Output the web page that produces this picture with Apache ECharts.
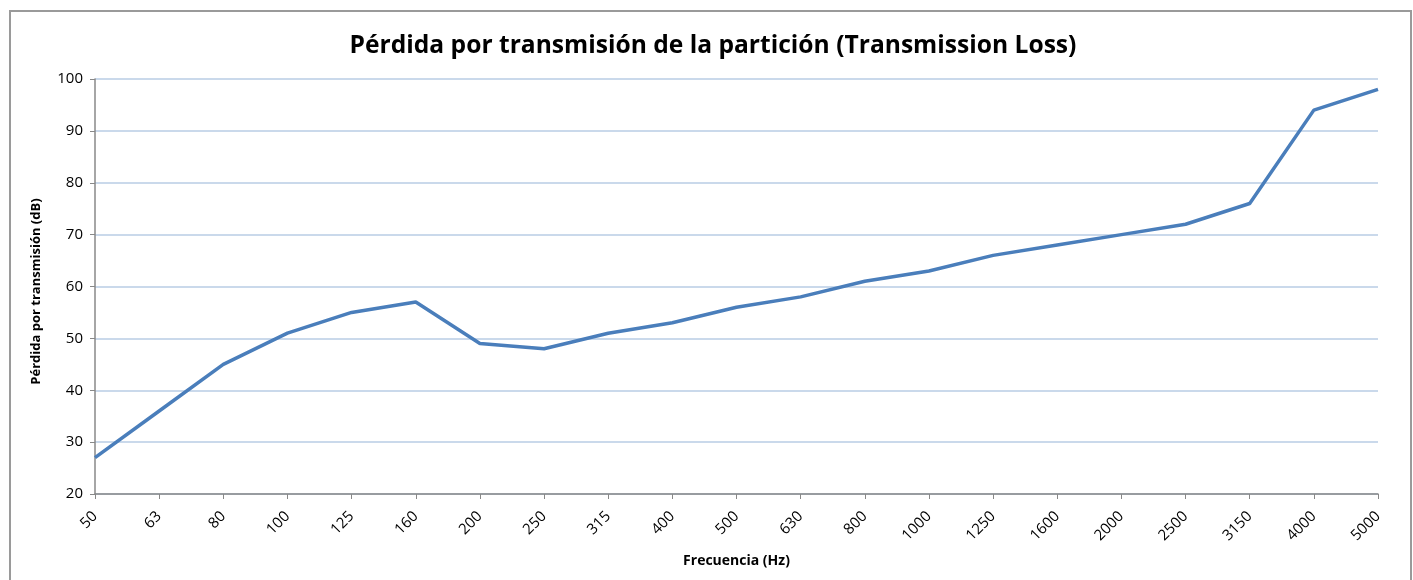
<!DOCTYPE html>
<html>
<head>
<meta charset="utf-8">
<script src="https://cdn.jsdelivr.net/npm/echarts@6/dist/echarts.min.js"></script>
<style>
    html, body {
        margin: 0;
        padding: 0;
        background: #fff;
    }
    .frame {
        position: absolute;
        left: 9px;
        top: 10px;
        width: 1399px;
        height: 600px;
        border: 2px solid #9a9a9a;
    }
    #chart {
        position: absolute;
        left: 0;
        top: 0;
        width: 1413px;
        height: 580px;
    }
</style>
</head>
<body>
<div class="frame"></div>
<div id="chart"></div>
<script>
var frequencies = ['50', '63', '80', '100', '125', '160', '200', '250', '315', '400', '500',
    '630', '800', '1000', '1250', '1600', '2000', '2500', '3150', '4000', '5000'];
var transmissionLoss = [27, 36, 45, 51, 55, 57, 49, 48, 51, 53, 56,
    58, 61, 63, 66, 68, 70, 72, 76, 94, 98];

var myChart = echarts.init(document.getElementById('chart'));
var option = {
    animation: false,
    title: {
        text: 'Pérdida por transmisión de la partición (Transmission Loss)',
        left: 708,
        textAlign: 'center',
        top: 28,
        textStyle: {
            fontFamily: 'Open Sans',
            fontWeight: 'bold',
            fontSize: 24.6,
            color: '#000'
        }
    },
    grid: {
        left: 95,
        right: 35,
        top: 79,
        bottom: 86
    },
    xAxis: {
        type: 'category',
        boundaryGap: false,
        data: frequencies,
        name: 'Frecuencia (Hz)',
        nameLocation: 'middle',
        nameGap: 60,
        nameTextStyle: {
            fontFamily: 'Open Sans',
            fontWeight: 'bold',
            fontSize: 14,
            color: '#000'
        },
        axisLine: {
            lineStyle: { color: '#888', width: 1.5 }
        },
        axisTick: {
            alignWithLabel: true,
            length: 5,
            lineStyle: { color: '#888' }
        },
        axisLabel: {
            rotate: 45,
            margin: 20,
            fontFamily: 'Open Sans',
            fontSize: 15,
            color: '#000'
        }
    },
    yAxis: {
        type: 'value',
        min: 20,
        max: 100,
        interval: 10,
        name: 'Pérdida por transmisión (dB)',
        nameLocation: 'middle',
        nameGap: 52,
        nameTextStyle: {
            fontFamily: 'Open Sans',
            fontWeight: 'bold',
            fontSize: 13,
            color: '#000',
            padding: [0, 10, 0, 0]
        },
        axisLine: {
            show: true,
            lineStyle: { color: '#888', width: 1.5 }
        },
        axisTick: {
            show: true,
            length: 5,
            lineStyle: { color: '#888' }
        },
        axisLabel: {
            margin: 12,
            fontFamily: 'Open Sans',
            fontSize: 15,
            color: '#000'
        },
        splitLine: {
            lineStyle: { color: '#b9cde5', width: 1.5 }
        }
    },
    series: [{
        name: 'Transmission Loss',
        type: 'line',
        data: transmissionLoss,
        showSymbol: false,
        lineStyle: {
            color: '#4a7ebb',
            width: 3.5
        }
    }]
};
myChart.setOption(option);
</script>
</body>
</html>
